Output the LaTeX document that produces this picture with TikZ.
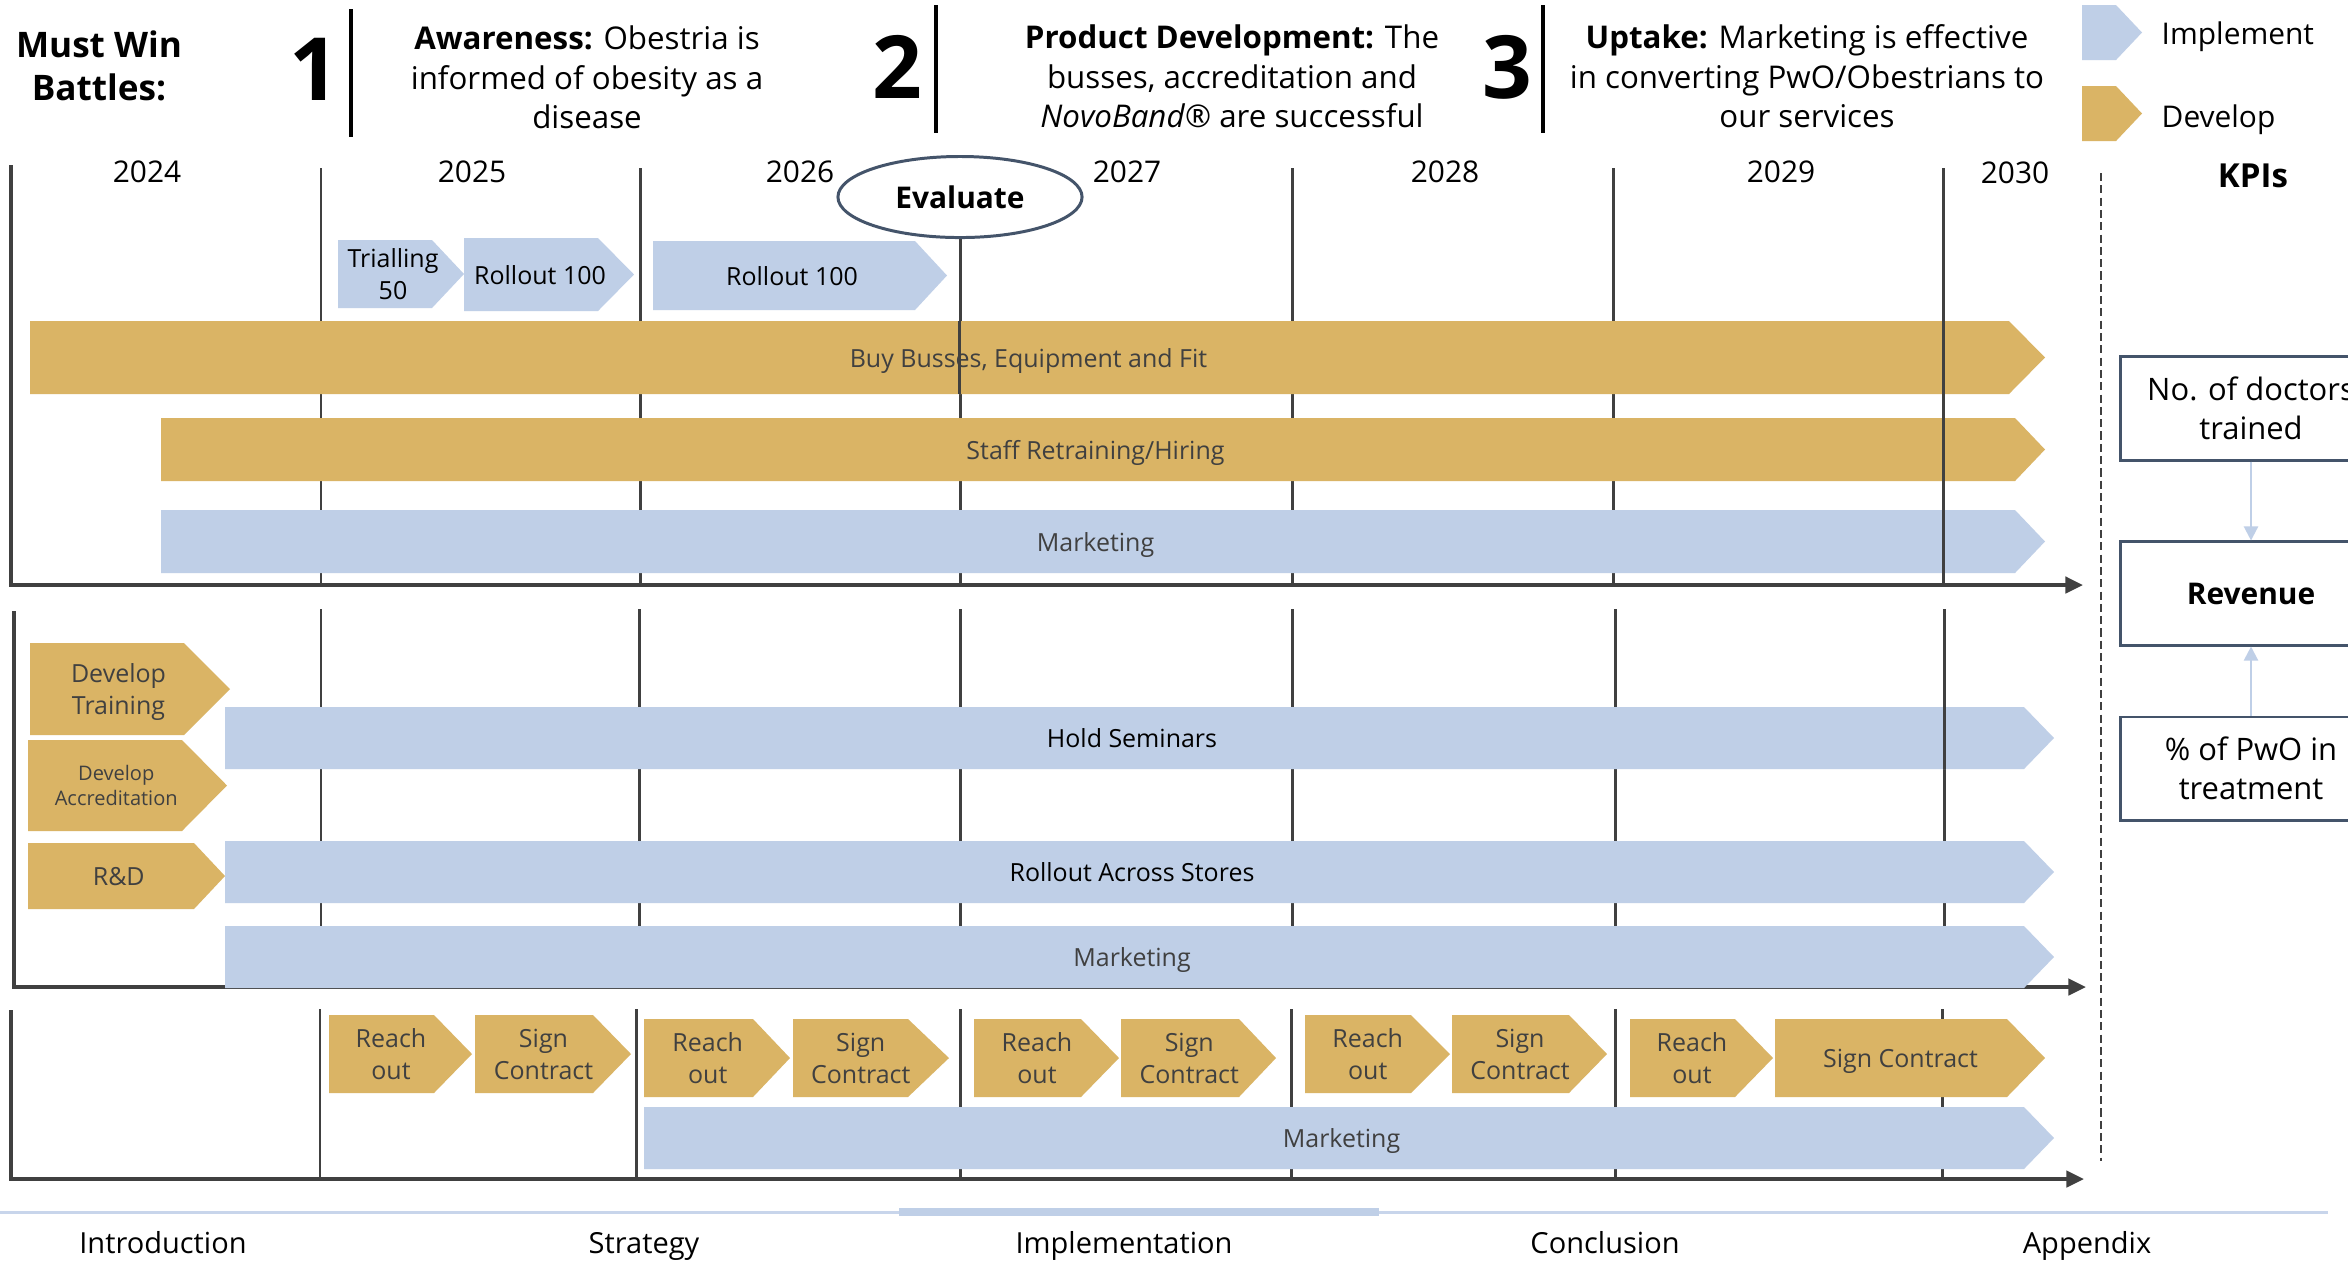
\documentclass[tikz,border=0pt]{standalone}
\usepackage{fontspec}
\setmainfont{Open Sans}
\usetikzlibrary{arrows.meta,shapes.geometric}

\definecolor{gold}{RGB}{218,180,101}
\definecolor{paleblue}{RGB}{191,207,231}
\definecolor{ink}{RGB}{64,64,64}
\definecolor{slate}{RGB}{68,84,106}
\definecolor{navblue}{RGB}{200,213,235}

\newcommand{\fsz}[2]{\fontsize{#1pt}{#2pt}\selectfont}

% chevron bar: name, left x, top y, notch x, tip x, bottom y, fill, label style, label
\newcommand{\chev}[9]{%
  \fill[#7] (#2,#3) -- (#4,#3) -- (#5,{(#3+#6)/2}) -- (#4,#6) -- (#2,#6) -- cycle;
  \node[#8] (#1) at ({(#2+#4)/2+(#5-#4)/4},{(#3+#6)/2}) {#9};
}

\tikzset{
  barlabel/.style={inner sep=0, align=center, text=ink, font=\fsz{7.1}{9.1}},
  barone/.style={barlabel, text height=5.8pt, text depth=0.4pt},
  darklabel/.style={barlabel, text=black},
  darkone/.style={barone, text=black},
  smalllabel/.style={barlabel, font=\fsz{5.7}{7.1}},
  yearlabel/.style={inner sep=0, font=\fsz{8.5}{10}, text height=6.7pt, text depth=0.4pt},
  legendlabel/.style={inner sep=0, anchor=west, font=\fsz{8.5}{10}, text height=6.7pt, text depth=0.4pt},
  headtext/.style={inner sep=0, align=center, font=\fsz{8.9}{11.2}},
  bignum/.style={inner sep=0, font=\fsz{24.8}{26}\bfseries},
  navlabel/.style={inner sep=0, font=\fsz{8.25}{10}, text height=6.6pt, text depth=0.4pt},
  vline/.style={draw=ink, line width=0.85pt},
  axisline/.style={draw=ink, line width=1.1pt, -{Triangle[length=5pt,width=4.6pt]}},
  headbar/.style={draw=black, line width=1.4pt},
  kpibox/.style={draw=slate, line width=0.85pt, minimum width=2.6cm, minimum height=1.03cm,
    inner sep=0, align=center, font=\fsz{8.8}{11.1}},
  kpiarrow/.style={draw=paleblue, line width=0.6pt, -{Triangle[length=4pt,width=4pt]}},
}

\begin{document}
\begin{tikzpicture}[x=0.01cm, y=-0.01cm]
\fill[white] (0,0) rectangle (2348,1262);
\useasboundingbox (0,0) rectangle (2348,1262);

% ---------- header: must win battles ----------
\node[inner sep=0, align=center, font=\fsz{10}{12.2}\bfseries] (mwb) at (99,66) {Must Win\\Battles:};
\node[bignum] (n1) at (314,69) {1};
\node[bignum] (n2) at (897,67) {2};
\node[bignum] (n3) at (1507,67) {3};
\draw[headbar] (351,9) -- (351,137);
\draw[headbar] (936,5) -- (936,133);
\draw[headbar] (1543,5) -- (1543,133);
\node[headtext] (b1) at (587,77.5) {\textbf{Awareness:} Obestria is\\informed of obesity as a\\disease};
\node[headtext] (b2) at (1232,76.5) {\textbf{Product Development:} The\\busses, accreditation and\\\textit{NovoBand}® are successful};
\node[headtext] (b3) at (1807,76.5) {\textbf{Uptake:} Marketing is effective\\in converting PwO/Obestrians to\\our services};

% legend
\fill[paleblue] (2082,5) -- (2116,5) -- (2142,32.5) -- (2116,60) -- (2082,60) -- cycle;
\fill[gold] (2082,86) -- (2116,86) -- (2142,113.5) -- (2116,141) -- (2082,141) -- cycle;
\node[legendlabel] (limpl) at (2161,33) {Implement};
\node[legendlabel] (ldev) at (2161,116) {Develop};

% years
\node[yearlabel] (y24) at (147,171) {2024};
\node[yearlabel] (y25) at (472,171) {2025};
\node[yearlabel] (y26) at (800,171) {2026};
\node[yearlabel] (y27) at (1127,171) {2027};
\node[yearlabel] (y28) at (1445,171) {2028};
\node[yearlabel] (y29) at (1781,171) {2029};
\node[yearlabel] (y30) at (2015,172) {2030};
\node[inner sep=0, font=\fsz{9.4}{11}\bfseries] (kpis) at (2253,176) {KPIs};

% ---------- year dividers (behind the bars) ----------
\foreach \xx in {321,640,1292,1613} \draw[vline] (\xx,168) -- (\xx,585);
\foreach \xx in {321,639,960,1292,1615,1944} \draw[vline] (\xx,609) -- (\xx,987);
\foreach \xx in {320,636,960,1291,1615,1942} \draw[vline] (\xx,1009) -- (\xx,1179);

% evaluate milestone
\node[ellipse, draw=slate, line width=0.85pt, fill=white, minimum width=2.44cm, minimum height=0.81cm,
  inner sep=0, font=\fsz{8.5}{10}\bfseries] (eval) at (960,197) {Evaluate};
\coordinate (evalfoot) at (959,585);
\draw[vline] (eval.south) -- (eval.south |- evalfoot);

% axes
\draw[axisline] (11,165) |- (2083,585);
\draw[axisline] (14,611) |- (2086,987);
\draw[axisline] (11,1010) |- (2084,1179);

% ---------- section 1: busses ----------
\chev{trial}{338}{240}{432}{464}{308}{paleblue}{darklabel}{Trialling\\50}
\chev{rollA}{464}{238}{598}{634}{311}{paleblue}{darkone}{Rollout 100}
\chev{rollB}{653}{241}{915}{947}{310}{paleblue}{darkone}{Rollout 100}
\chev{buy}{30}{321}{2009}{2045}{394}{gold}{barone}{Buy Busses, Equipment and Fit}
\draw[vline] (959,321) -- (959,394);
\chev{staff}{161}{418}{2015}{2045}{481}{gold}{barone}{Staff Retraining/Hiring}
\chev{mktA}{161}{510}{2015}{2045}{573}{paleblue}{barone}{Marketing}
\draw[vline] (1943,168) -- (1943,585);

% ---------- section 2: doctors ----------
\chev{devtrain}{30}{643}{184}{230}{735}{gold}{barlabel, yshift=-0.03cm}{Develop\\Training}
\chev{devacc}{28}{740}{182}{227}{831}{gold}{smalllabel}{Develop\\Accreditation}
\chev{rnd}{28}{843}{194}{225}{909}{gold}{barone}{R\&D}
\chev{seminars}{225}{707}{2024}{2054}{769}{paleblue}{darkone}{Hold Seminars}
\draw[vline] (1944,707) -- (1944,769);
\chev{stores}{225}{841}{2024}{2054}{903}{paleblue}{darkone}{Rollout Across Stores}
\chev{mktB}{225}{926}{2024}{2054}{988}{paleblue}{barone}{Marketing}

% ---------- section 3: contracts ----------
\chev{roA}{329}{1015}{434}{472}{1093}{gold}{barlabel}{Reach\\out}
\chev{scA}{475}{1015}{593}{631}{1093}{gold}{barlabel}{Sign\\Contract}
\chev{roB}{644}{1019}{753}{790}{1097}{gold}{barlabel}{Reach\\out}
\chev{scB}{793}{1019}{908}{949}{1097}{gold}{barlabel}{Sign\\Contract}
\chev{roC}{974}{1019}{1081}{1119}{1097}{gold}{barlabel}{Reach\\out}
\chev{scC}{1121}{1019}{1239}{1276}{1097}{gold}{barlabel}{Sign\\Contract}
\chev{roD}{1305}{1015}{1411}{1450}{1093}{gold}{barlabel}{Reach\\out}
\chev{scD}{1452}{1015}{1569}{1607}{1093}{gold}{barlabel}{Sign\\Contract}
\chev{roE}{1630}{1019}{1735}{1773}{1097}{gold}{barlabel}{Reach\\out}
\chev{scE}{1775}{1019}{2007}{2045}{1097}{gold}{barone}{Sign Contract}
\chev{mktC}{644}{1107}{2024}{2054}{1169}{paleblue}{barone}{Marketing}

% divider between timeline and KPIs
\draw[ink, line width=0.45pt, dash pattern=on 2.3pt off 1.2pt] (2101,173) -- (2101,1161);

% ---------- KPIs ----------
\node[kpibox] (kdoc) at (2251,408.5) {No. of doctors\\trained};
\node[kpibox, font=\fsz{8.5}{10}\bfseries] (krev) at (2251,593.5) {Revenue};
\node[kpibox] (kpwo) at (2251,768.5) {\% of PwO in\\treatment};
\draw[kpiarrow] (kdoc) -- (krev);
\draw[kpiarrow] (kpwo) -- (krev);

% ---------- navigation strip ----------
\draw[navblue, line width=0.85pt] (0,1212) -- (2328,1212);
\draw[paleblue, line width=2.3pt] (899,1212) -- (1379,1212);
\node[navlabel] (nintro) at (163,1243) {Introduction};
\node[navlabel] (nstrat) at (644,1243) {Strategy};
\node[navlabel] (nimpl) at (1124,1243) {Implementation};
\node[navlabel] (nconc) at (1605,1243) {Conclusion};
\node[navlabel] (napp) at (2087,1243) {Appendix};
\end{tikzpicture}
\end{document}
